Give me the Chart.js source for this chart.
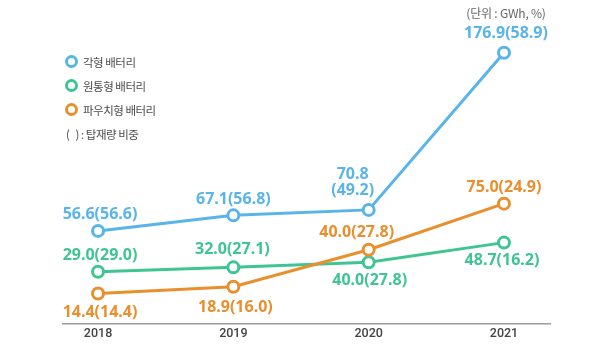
<!DOCTYPE html>
<html>
<head>
<meta charset="utf-8">
<script src="https://cdn.jsdelivr.net/npm/chart.js@4/dist/chart.umd.min.js"></script>
<style>
  html, body { margin: 0; padding: 0; background: #ffffff; }
  #wrap { position: relative; width: 600px; height: 345px; }
  #c { position: absolute; left: 0; top: 0; }
  #legend { position: absolute; left: 0; top: 0; font-family: "Noto Sans CJK KR", sans-serif; font-size: 11.5px; color: #4d4d4d; letter-spacing: -0.5px; }
  .item { position: absolute; white-space: nowrap; line-height: 14px; }
  .dot { position: absolute; width: 7px; height: 7px; border-radius: 50%; border: 3.5px solid; background: #fff; }
  #unit { position: absolute; left: 506px; top: 6px; transform: translateX(-50%); font-family: "Noto Sans CJK KR", sans-serif; font-size: 12px; color: #666; white-space: nowrap; line-height: 14px; letter-spacing: -0.2px; }
</style>
</head>
<body>
<div id="wrap">
  <canvas id="c" width="600" height="345"></canvas>
  <div id="legend"></div>
  <div id="unit">(단위 : GWh, %)</div>
</div>
<script>
// ---- data ----
const years = [2018, 2019, 2020, 2021];
const seriesNames = ['각형 배터리', '원통형 배터리', '파우치형 배터리'];
const prismatic = [56.6, 67.1, 70.8, 176.9];
const cylindrical = [29.0, 32.0, 35.4, 48.7];
const pouch = [14.4, 18.9, 43.9, 75.0];
const prismaticLabels = ['56.6(56.6)', '67.1(56.8)', '70.8\n(49.2)', '176.9(58.9)'];
const cylindricalLabels = ['29.0(29.0)', '32.0(27.1)', '40.0(27.8)', '48.7(16.2)'];
const pouchLabels = ['14.4(14.4)', '18.9(16.0)', '40.0(27.8)', '75.0(24.9)'];
const shareNote = '(   ) : 탑재량 비중';

// ---- styles ----
const colors = ['#58b4ea', '#3ec592', '#e98f2d'];
const labelOffsets = [
  [[2, -16], [0, -16], [-16, -19], [2, -19]],
  [[2, -16], [-1, -18], [1, 18], [-2, 18]],
  [[2, 19], [2, 21], [-12, -17], [0, -16]]
];

const allValues = [prismatic, cylindrical, pouch];
const allLabels = [prismaticLabels, cylindricalLabels, pouchLabels];

const datasets = allValues.map((vals, i) => ({
  label: seriesNames[i],
  data: years.map((y, k) => ({ x: y, y: vals[k] })),
  borderColor: colors[i],
  backgroundColor: '#ffffff',
  pointBackgroundColor: '#ffffff',
  pointBorderColor: colors[i],
  pointBorderWidth: 3,
  pointRadius: 5.5,
  borderWidth: 3,
  tension: 0,
  order: i === 0 ? 3 : (i === 1 ? 2 : 1)
}));

const valueLabels = {
  id: 'valueLabels',
  afterDatasetsDraw(chart) {
    const ctx = chart.ctx;
    ctx.save();
    ctx.font = 'bold 16px "Noto Sans", "DejaVu Sans", sans-serif';
    ctx.textAlign = 'center';
    ctx.textBaseline = 'middle';
    chart.data.datasets.forEach((ds, i) => {
      const meta = chart.getDatasetMeta(i);
      ctx.fillStyle = colors[i];
      meta.data.forEach((pt, k) => {
        const lines = allLabels[i][k].split('\n');
        const [dx, dy] = labelOffsets[i][k];
        lines.forEach((ln, j) => {
          const off = (lines.length - 1 - j) * 16;
          ctx.fillText(ln, pt.x + dx, pt.y + dy - off);
        });
      });
    });
    ctx.restore();
  }
};

const chart = new Chart(document.getElementById('c'), {
  type: 'line',
  data: { datasets },
  options: {
    responsive: false,
    animation: false,
    events: [],
    layout: { padding: { left: 63, right: 50, top: 21, bottom: 0 } },
    plugins: { legend: { display: false }, tooltip: { enabled: false } },
    scales: {
      x: {
        type: 'linear',
        min: 2017.741,
        max: 2021.34,
        grid: { display: false, drawTicks: false },
        border: { display: true, color: '#9c9c9c', width: 1.5 },
        ticks: {
          stepSize: 1,
          includeBounds: false,
          padding: 5.5,
          color: '#444',
          font: { family: 'Roboto, "Noto Sans", sans-serif', size: 12.5, weight: '500', lineHeight: 0.84 },
          callback: (v) => years.includes(v) ? String(v) : ''
        }
      },
      y: {
        display: false,
        min: -5.9,
        max: 198.3
      }
    }
  },
  plugins: [valueLabels]
});

// ---- legend (HTML, built from datasets) ----
const legend = document.getElementById('legend');
const legendRows = [62, 86, 110];
seriesNames.forEach((name, i) => {
  const dot = document.createElement('div');
  dot.className = 'dot';
  dot.style.borderColor = colors[i];
  dot.style.left = (72 - 7) + 'px';
  dot.style.top = (legendRows[i] - 7) + 'px';
  legend.appendChild(dot);
  const t = document.createElement('div');
  t.className = 'item';
  t.textContent = name;
  t.style.left = '83px';
  t.style.top = (legendRows[i] - 7) + 'px';
  legend.appendChild(t);
});
const note = document.createElement('div');
note.className = 'item';
note.textContent = shareNote;
note.style.whiteSpace = 'pre';
note.style.left = '66px';
note.style.top = (134 - 7) + 'px';
legend.appendChild(note);
</script>
</body>
</html>
